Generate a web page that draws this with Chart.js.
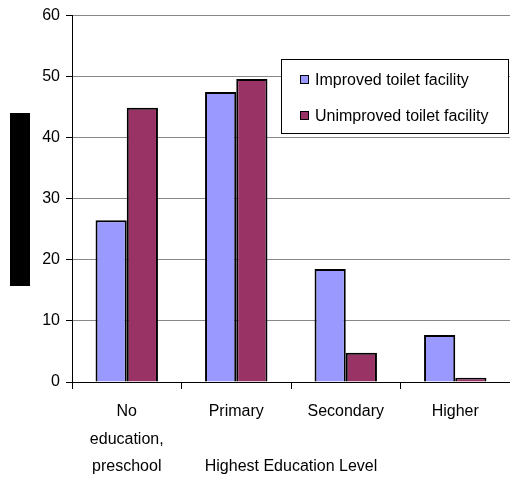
<!DOCTYPE html>
<html>
<head>
<meta charset="utf-8">
<script src="https://cdn.jsdelivr.net/npm/chart.js@4"></script>
<style>
  html, body { margin: 0; padding: 0; background: #fff; overflow: hidden; }
</style>
</head>
<body>
<canvas id="chart" width="510" height="480"></canvas>
<script>
const educationLevels = [['No', 'education,', 'preschool'], 'Primary', 'Secondary', 'Higher'];
const improvedToilet = [26.5, 47.5, 18.5, 7.7];
const unimprovedToilet = [44.9, 49.6, 4.8, 0.7];
const seriesNames = ['Improved toilet facility', 'Unimproved toilet facility'];
const seriesColors = ['#9999FF', '#993366'];
const yTicks = [0, 10, 20, 30, 40, 50, 60];

const FONT = '"Liberation Sans", Arial, sans-serif';
Chart.defaults.font.family = FONT;
Chart.defaults.color = '#000';

// boxed legend in the upper right + the dark block where the y title sits
const boxLegend = {
  id: 'boxLegend',
  afterDraw(chart) {
    const ctx = chart.ctx;
    ctx.save();
    ctx.fillStyle = '#000';
    ctx.fillRect(10, 113, 20, 173);

    const x = 281.5, y = 59.5, w = 227, h = 74;
    ctx.fillStyle = '#fff';
    ctx.fillRect(x, y, w, h);
    ctx.strokeStyle = '#000';
    ctx.lineWidth = 1;
    ctx.strokeRect(x, y, w, h);

    ctx.font = '16px ' + FONT;
    ctx.textBaseline = 'middle';
    chart.data.datasets.forEach((ds, i) => {
      const cy = 80 + i * 36;
      ctx.fillStyle = ds.backgroundColor;
      ctx.fillRect(300.5, cy - 4.5, 8, 8);
      ctx.strokeRect(300.5, cy - 4.5, 8, 8);
      ctx.fillStyle = '#000';
      ctx.fillText(ds.label, 315, cy + 1);
    });
    ctx.restore();
  }
};

new Chart(document.getElementById('chart').getContext('2d'), {
  type: 'bar',
  data: {
    labels: educationLevels,
    datasets: [{
      label: seriesNames[0],
      data: improvedToilet,
      backgroundColor: seriesColors[0],
      borderColor: '#000',
      borderWidth: 2
    }, {
      label: seriesNames[1],
      data: unimprovedToilet,
      backgroundColor: seriesColors[1],
      borderColor: '#000',
      borderWidth: 2
    }]
  },
  options: {
    responsive: false,
    animation: false,
    layout: { padding: { top: 15, right: 0, bottom: 0, left: 0 } },
    datasets: { bar: { categoryPercentage: 0.57, barPercentage: 1 } },
    plugins: {
      legend: { display: false },
      tooltip: { enabled: false }
    },
    scales: {
      x: {
        grid: { offset: true, drawOnChartArea: false, tickLength: 7, color: '#000' },
        border: { color: '#000', width: 1 },
        ticks: { padding: 9, maxRotation: 0, autoSkip: false, font: { size: 16, lineHeight: 1.72 } },
        title: {
          display: true,
          text: 'Highest Education Level',
          font: { size: 16 },
          padding: { top: 0, bottom: 4 }
        },
        afterFit(scale) { scale.height = 98; }
      },
      y: {
        min: 0,
        max: 60,
        afterBuildTicks(scale) { scale.ticks = yTicks.map(v => ({ value: v })); },
        ticks: { padding: 6, font: { size: 16 } },
        grid: { color: '#888', tickColor: '#000', tickLength: 6 },
        border: { color: '#000', width: 1 },
        afterFit(scale) { scale.width = 72; }
      }
    }
  },
  plugins: [boxLegend]
});
</script>
</body>
</html>
